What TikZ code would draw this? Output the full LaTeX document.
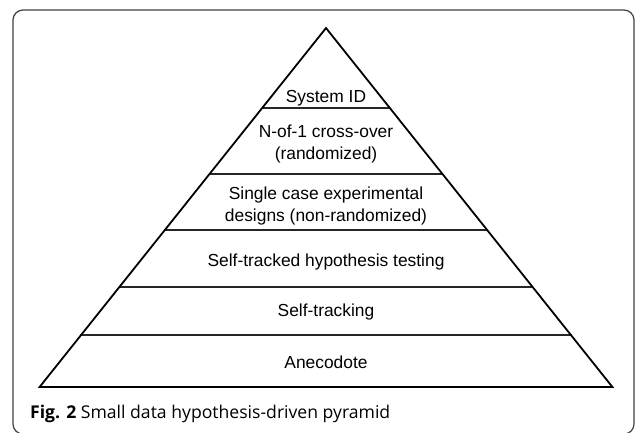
\documentclass[tikz,border=0pt]{standalone}
\usepackage{fontspec}
\setmainfont{Liberation Sans}
\newfontfamily\capfont{Open Sans}
\usepackage{tikz}

\tikzset{
    level/.style={font=\fontsize{17.4}{22}\selectfont, align=center, inner sep=0pt},
    rung/.style={line width=1.4pt, color=black!85},
}

\begin{document}
\begin{tikzpicture}[x=1pt, y=-1pt]
    \useasboundingbox (0,0) rectangle (636,432);
    \draw[line width=1.2pt, color=black!75, rounded corners=10pt] (13,10) rectangle (634,434);

    \coordinate (Top) at (326,28);
    \coordinate (BL) at (39.6,387);
    \coordinate (BR) at (612.4,387);

    %layer lines, x = 326 +- 0.8*(y-28)
    \foreach \y in {108,174,230,287,335} {
        \pgfmathsetmacro{\hw}{0.8*(\y-28)}
        \draw[rung] (326-\hw,\y) -- (326+\hw,\y);
    }
    \draw[line width=1.8pt, line join=miter] (BL) -- (Top) -- (BR) -- cycle;

    \node[level] (SysID) at (326,98) {System ID};
    \node[level] (Nof1) at (326,144) {N-of-1 cross-over\\(randomized)};
    \node[level] (SCED) at (326,206) {Single case experimental\\designs (non-randomized)};
    \node[level] (Hyp) at (326,262) {Self-tracked hypothesis testing};
    \node[level] (Track) at (326,312) {Self-tracking};
    \node[level] (Anec) at (326,362) {Anecodote};

    \node[anchor=west, inner sep=0pt, font=\capfont\fontsize{17.6}{20}\selectfont] (Cap) at (30,414)
        {\textbf{Fig. 2} Small data hypothesis-driven pyramid};
\end{tikzpicture}
\end{document}
